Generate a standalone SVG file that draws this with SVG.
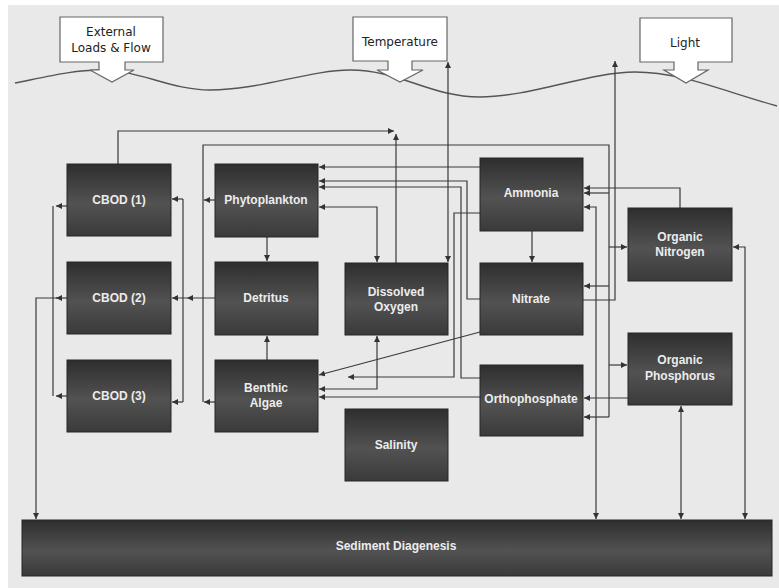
<svg xmlns="http://www.w3.org/2000/svg" width="779" height="588" viewBox="0 0 779 588">
<defs>
<linearGradient id="boxg" x1="0" y1="0" x2="0" y2="1">
<stop offset="0" stop-color="#2e2e2e"/>
<stop offset="0.55" stop-color="#525252"/>
<stop offset="1" stop-color="#3a3a3a"/>
</linearGradient>
<marker id="ah" viewBox="0 0 6 6" refX="6" refY="3" markerWidth="6" markerHeight="6" markerUnits="userSpaceOnUse" orient="auto-start-reverse">
<path d="M0,0 L6,3 L0,6 z" fill="#333"/>
</marker>
</defs>
<style>
.box{fill:url(#boxg);stroke:#262626;stroke-width:1}
.lbl{font-family:"Liberation Sans",Arial,sans-serif;font-weight:bold;font-size:12px;fill:#ececec;text-anchor:middle;dominant-baseline:central}
.call{fill:#ffffff;stroke:#666;stroke-width:1.2}
.ctxt{font-family:"DejaVu Sans",Verdana,sans-serif;font-size:12px;fill:#222;text-anchor:middle;dominant-baseline:central}
.c{fill:none;stroke:#3a3a3a;stroke-width:1.2}
.e{marker-end:url(#ah)}
.s{marker-start:url(#ah)}
.m{marker-mid:url(#ah)}
</style>
<rect x="0" y="0" width="779" height="588" fill="#ffffff"/>
<rect x="8" y="5" width="771" height="583" fill="#e9e9e9"/>

<path d="M15,83 C50,76 75,70 100,70 C140,70 170,90 210,90 C260,90 310,70 350,70 C400,70 430,97 480,97 C530,97 590,72 635,72 C680,72 720,90 777,106" fill="none" stroke="#555" stroke-width="1.4"/>

<g id="external">
<path class="call" d="M60,17 H163 V62 H125 V70 H134 L112,82 L90,70 H99 V62 H60 Z"/>
<text class="ctxt" x="111" y="32">External</text>
<text class="ctxt" x="111" y="48">Loads &amp; Flow</text>
</g>
<g id="temperature">
<path class="call" d="M353,17 H447 V61 H412 V70 H423 L400,82 L377,70 H388 V61 H353 Z"/>
<text class="ctxt" x="400" y="42">Temperature</text>
</g>
<g id="light">
<path class="call" d="M640,18 H732 V62 H698 V70 H708 L686,83 L664,70 H674 V62 H640 Z"/>
<text class="ctxt" x="685" y="43">Light</text>
</g>

<g id="connectors">
<path class="c e" d="M118,164 V131 H394"/>
<path class="c e" d="M396,263 V134"/>
<path class="c e" d="M215,200 H204"/>
<path class="c e" d="M215,402 H204"/>
<path class="c" d="M203,402 V145 H609 V417"/>
<path class="c e" d="M609,193 H584"/>
<path class="c e" d="M609,247 H627"/>
<path class="c e" d="M609,286 H584"/>
<path class="c e" d="M609,365 H627"/>
<path class="c e" d="M609,417 H584"/>
<path class="c m e" d="M215,298 H187 H172"/>
<path class="c" d="M183,199 V402"/>
<path class="c e" d="M183,199 H172"/>
<path class="c e" d="M183,402 H172"/>
<path class="c e" d="M68,206 H56"/>
<path class="c e" d="M68,396 H56"/>
<path class="c" d="M53,206 V396"/>
<path class="c e" d="M68,298 H56"/>
<path class="c e" d="M57,298 H36 V519"/>
<path class="c e" d="M267,237 V261"/>
<path class="c e" d="M267,360 V336"/>
<path class="c e" d="M480,167 H319"/>
<path class="c e" d="M480,299 H467 V181 H319"/>
<path class="c e" d="M480,378 H461 V187 H319"/>
<path class="c s e" d="M319,207 H377 V262"/>
<path class="c s e" d="M448,62 V262"/>
<path class="c e" d="M583,300 H615 V61"/>
<path class="c e" d="M480,213 H454 V377 H348"/>
<path class="c s e" d="M377,336 V389 H319"/>
<path class="c e" d="M480,397 H319"/>
<path class="c e" d="M480,332 L319,375"/>
<path class="c e" d="M532,231 V262"/>
<path class="c e" d="M680,208 V188 H584"/>
<path class="c s e" d="M584,207 H596 V519"/>
<path class="c s e" d="M733,247 H745 V519"/>
<path class="c s e" d="M681,406 V519"/>
<path class="c e" d="M628,398 H584"/>
</g>

<g id="cbod1"><rect class="box" x="67" y="164" width="104" height="72"/><text class="lbl" x="119" y="200">CBOD (1)</text></g>
<g id="cbod2"><rect class="box" x="67" y="262" width="104" height="72"/><text class="lbl" x="119" y="298">CBOD (2)</text></g>
<g id="cbod3"><rect class="box" x="67" y="360" width="104" height="72"/><text class="lbl" x="119" y="396">CBOD (3)</text></g>
<g id="phytoplankton"><rect class="box" x="215" y="164" width="103" height="73"/><text class="lbl" x="266" y="200">Phytoplankton</text></g>
<g id="detritus"><rect class="box" x="215" y="262" width="103" height="73"/><text class="lbl" x="266" y="298">Detritus</text></g>
<g id="benthic"><rect class="box" x="215" y="360" width="103" height="72"/><text class="lbl" x="266" y="388">Benthic</text><text class="lbl" x="266" y="403">Algae</text></g>
<g id="do"><rect class="box" x="345" y="263" width="103" height="72"/><text class="lbl" x="396" y="292">Dissolved</text><text class="lbl" x="396" y="307">Oxygen</text></g>
<g id="salinity"><rect class="box" x="345" y="409" width="103" height="72"/><text class="lbl" x="396" y="445">Salinity</text></g>
<g id="ammonia"><rect class="box" x="480" y="158" width="103" height="73"/><text class="lbl" x="531" y="193">Ammonia</text></g>
<g id="nitrate"><rect class="box" x="480" y="263" width="103" height="72"/><text class="lbl" x="531" y="299">Nitrate</text></g>
<g id="orthophosphate"><rect class="box" x="480" y="365" width="103" height="71"/><text class="lbl" x="531" y="399">Orthophosphate</text></g>
<g id="orgnitrogen"><rect class="box" x="628" y="208" width="104" height="73"/><text class="lbl" x="680" y="237">Organic</text><text class="lbl" x="680" y="252">Nitrogen</text></g>
<g id="orgphosphorus"><rect class="box" x="628" y="333" width="104" height="72"/><text class="lbl" x="680" y="360">Organic</text><text class="lbl" x="680" y="376">Phosphorus</text></g>
<g id="sediment"><rect class="box" x="22" y="520" width="750" height="56"/><text class="lbl" x="396" y="546">Sediment Diagenesis</text></g>
</svg>
